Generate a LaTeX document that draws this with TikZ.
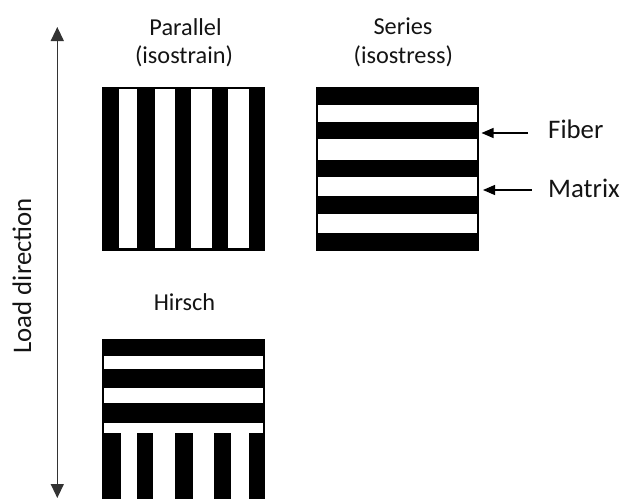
\documentclass[tikz,border=0pt]{standalone}
\usepackage{fontspec}
\setmainfont{Carlito}
\usetikzlibrary{arrows.meta}
\definecolor{ink}{gray}{0.08}
\tikzset{
  label/.style={inner sep=0pt, text=ink, font=\fontsize{24.3}{28}\selectfont},
  biglabel/.style={label, font=\fontsize{26.8}{30}\selectfont},
  slab/.style={fill=black},
  band/.style={fill=white},
  loadarrow/.style={draw=black!80, line width=1.3pt,
    {Triangle[width=13pt,length=14pt]}-{Triangle[width=13pt,length=14pt]}},
  pointer/.style={draw=black, line width=1.2pt, -{Triangle[width=10pt,length=12pt]}}
}
\begin{document}
\begin{tikzpicture}[x=1pt,y=-1pt]
\useasboundingbox (0,0) rectangle (623,498);
\clip (0,0) rectangle (623,498);

% titles
\node[label, anchor=base] (partop) at (185.5,35) {Parallel};
\node[label, anchor=base] (parbot) at (184,63) {(isostrain)};
\node[label, anchor=base] (sertop) at (403,34) {Series};
\node[label, anchor=base] (serbot) at (403.3,63) {(isostress)};
\node[label, anchor=base] (hirtitle) at (184.5,310) {Hirsch};

% parallel (isostrain): vertical stripes
\fill[slab] (102,87) rectangle (265,251);
\foreach \a/\b in {119.3/137, 154.7/175, 191.3/212, 228.3/248.7}
  \fill[band] (\a,89.3) rectangle (\b,248.3);

% series (isostress): horizontal stripes
\fill[slab] (316,87) rectangle (479,251);
\foreach \a/\b in {104.7/122.3, 139.3/160.3, 177.3/196.3, 214.3/233}
  \fill[band] (317.7,\a) rectangle (477,\b);

% Hirsch: layered top over parallel bottom
\fill[slab] (102,339) rectangle (265,503);
\foreach \a/\b in {355.7/369.3, 387.7/403.3, 422.7/432.7}
  \fill[band] (103.7,\a) rectangle (262.7,\b);
\foreach \a/\b in {120.7/136.7, 153.3/175, 192.7/214, 230.7/248.7}
  \fill[band] (\a,422.7) rectangle (\b,501);

% fiber / matrix callouts
\node[biglabel, anchor=base west] (fiber) at (548,138.3) {Fiber};
\node[biglabel, anchor=base west] (matrix) at (548,197.3) {Matrix};
\coordinate (fibertail) at (528,133);
\coordinate (fibertip) at (481.5,133);
\coordinate (matrixtail) at (531.5,190);
\coordinate (matrixtip) at (483,190);
\draw[pointer] (fibertail) -- (fibertip);
\draw[pointer] (matrixtail) -- (matrixtip);

% load direction
\coordinate (loadtop) at (57.3,27);
\coordinate (loadbot) at (57.3,498);
\draw[loadarrow] (loadbot) -- (loadtop);
\node[biglabel, anchor=base, rotate=90] (loadlbl) at (31,275.8) {Load direction};
\end{tikzpicture}
\end{document}
